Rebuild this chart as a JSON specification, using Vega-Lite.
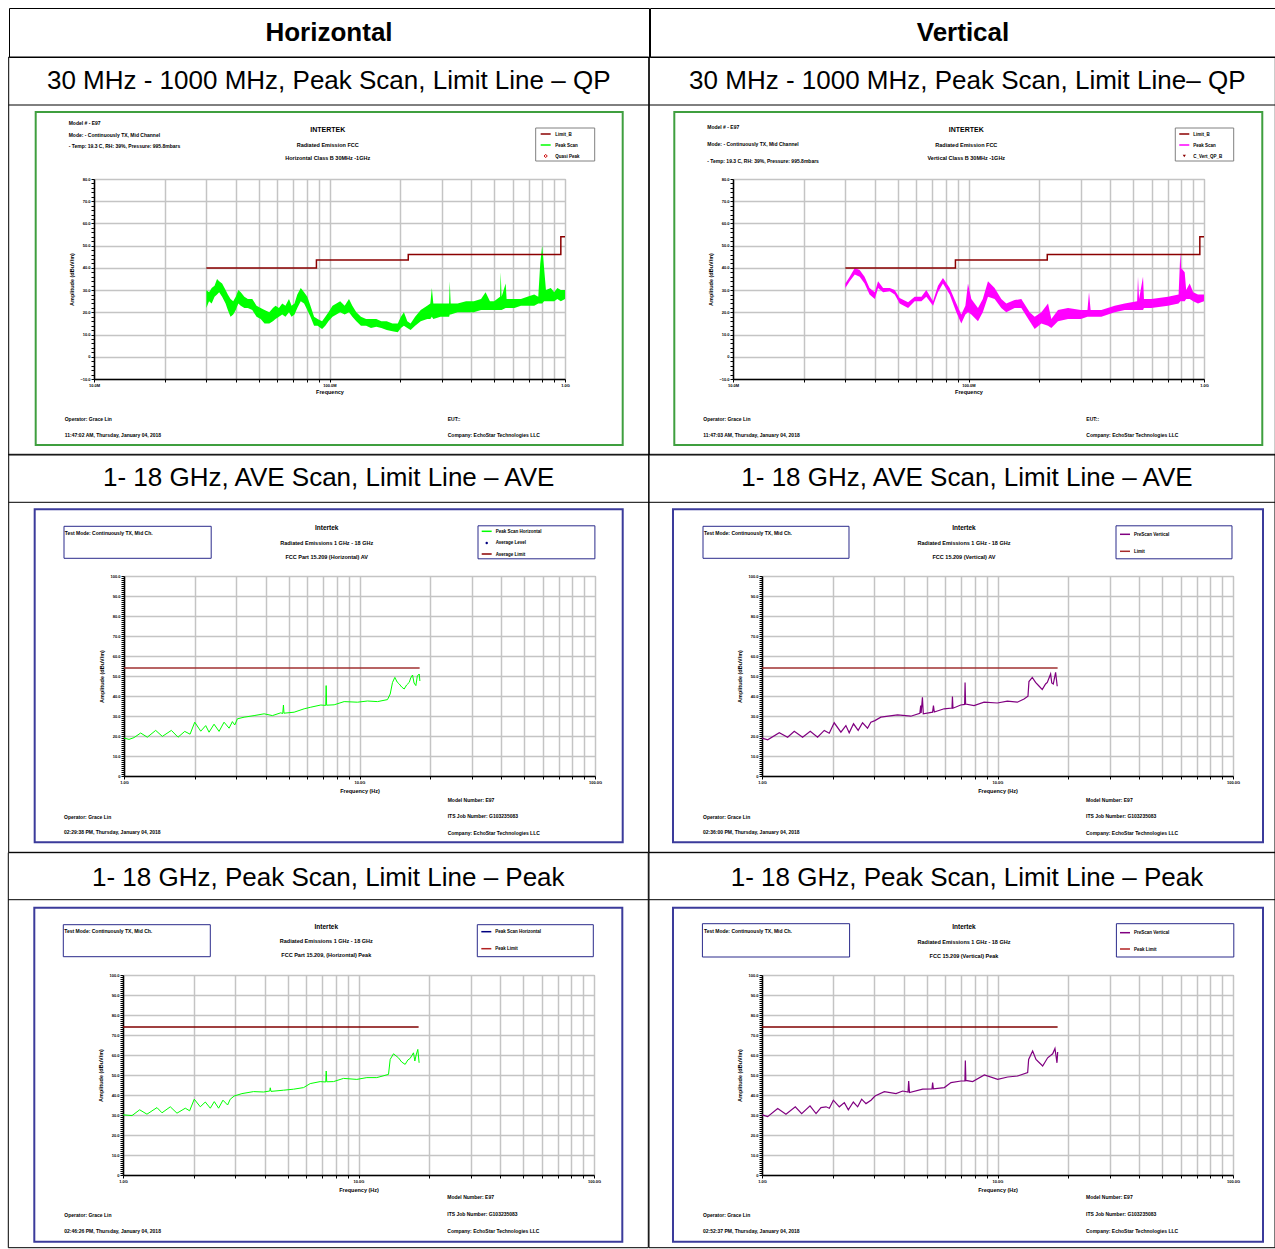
{
  "$schema": "https://vega.github.io/schema/vega-lite/v6.json",
  "usermeta": {"embedOptions": {"actions": false}},
  "padding": {"left": 7, "top": 7, "right": 0, "bottom": 0},
  "background": "#ffffff",
  "config": {
    "font": "Liberation Sans",
    "view": {"stroke": null},
    "axis": {"grid": true, "ticks": true, "tickCount": 500, "labelFont": "Liberation Sans", "labelFontSize": 4, "labelFontWeight": "bold", "labelColor": "#000", "titleFont": "Liberation Sans", "titleFontSize": 5.5, "titleFontWeight": "bold", "titleColor": "#000", "domainColor": "#000", "domainWidth": 1.5, "tickColor": "#000", "tickSize": 3, "tickWidth": 1, "gridColor": "#c4c4c4", "gridWidth": 1.5, "labelOverlap": false, "labelFlush": false, "labelPadding": 1},
    "axisX": {"titlePadding": 2},
    "axisY": {"titlePadding": 5},
    "style": {
      "tiny": {"font": "Liberation Sans", "fontSize": 5, "fontWeight": "bold", "fill": "#000"},
      "leg": {"font": "Liberation Sans", "fontSize": 4.5, "fontWeight": "bold", "fill": "#000"},
      "small": {"font": "Liberation Sans", "fontSize": 5.5, "fontWeight": "bold", "fill": "#000"},
      "brand": {"font": "Liberation Sans", "fontSize": 7, "fontWeight": "bold", "fill": "#000"},
      "brand2": {"font": "Liberation Sans", "fontSize": 6.5, "fontWeight": "bold", "fill": "#000"},
      "sub": {"font": "Liberation Sans", "fontSize": 26, "fill": "#000"}
    }
  },
  "datasets": {
    "A": [
      {"f":30,"lo":22,"hi":30},{"f":30.8,"lo":25,"hi":29},{"f":31.6,"lo":24,"hi":31},{"f":32.5,"lo":27,"hi":32},{"f":33.3,"lo":28,"hi":35},{"f":34,"lo":29,"hi":34},{"f":35,"lo":27,"hi":33},{"f":36.2,"lo":24,"hi":30},{"f":37,"lo":21,"hi":28},{"f":38,"lo":18,"hi":26},{"f":39,"lo":19,"hi":25},{"f":40,"lo":21,"hi":27},{"f":41,"lo":24,"hi":30},{"f":42,"lo":23,"hi":29},{"f":43.5,"lo":22,"hi":27},{"f":45,"lo":22,"hi":26},{"f":47,"lo":21,"hi":26},{"f":49,"lo":18,"hi":23},{"f":51,"lo":17,"hi":22},{"f":53,"lo":15,"hi":21},{"f":55.5,"lo":15,"hi":20},{"f":57.5,"lo":16,"hi":22},{"f":59,"lo":17,"hi":23},{"f":61,"lo":18,"hi":22},{"f":63,"lo":19,"hi":24},{"f":65,"lo":18,"hi":23},{"f":67.3,"lo":20,"hi":26},{"f":69,"lo":18,"hi":23},{"f":71,"lo":19,"hi":24},{"f":73,"lo":22,"hi":28},{"f":75.5,"lo":25,"hi":31},{"f":78,"lo":24,"hi":29},{"f":80.5,"lo":21,"hi":27},{"f":83,"lo":18,"hi":23},{"f":86,"lo":14,"hi":18},{"f":89,"lo":14,"hi":17},{"f":93,"lo":12.5,"hi":16},{"f":96,"lo":14,"hi":18},{"f":99,"lo":16,"hi":20},{"f":103,"lo":18,"hi":23},{"f":107,"lo":19,"hi":24},{"f":111,"lo":20,"hi":25},{"f":116,"lo":19,"hi":23},{"f":121,"lo":20,"hi":26},{"f":125,"lo":18,"hi":23},{"f":130,"lo":16,"hi":20},{"f":136,"lo":14,"hi":18},{"f":143,"lo":14,"hi":17},{"f":150,"lo":13,"hi":17},{"f":158,"lo":13.5,"hi":17},{"f":166,"lo":13,"hi":16},{"f":175,"lo":12,"hi":16},{"f":185,"lo":11.5,"hi":15},{"f":195,"lo":11,"hi":15},{"f":201,"lo":13,"hi":18},{"f":207,"lo":14,"hi":20},{"f":214,"lo":13,"hi":16},{"f":221,"lo":12,"hi":15},{"f":231,"lo":14,"hi":18},{"f":244,"lo":16,"hi":21},{"f":260,"lo":17,"hi":23},{"f":268,"lo":17,"hi":24},{"f":272,"lo":18,"hi":31},{"f":276,"lo":17,"hi":24},{"f":296,"lo":18,"hi":24},{"f":322,"lo":18,"hi":24},{"f":324,"lo":19,"hi":34},{"f":327,"lo":19,"hi":24},{"f":350,"lo":20,"hi":24},{"f":380,"lo":20,"hi":25},{"f":410,"lo":20,"hi":25},{"f":440,"lo":21,"hi":26},{"f":460,"lo":21,"hi":29},{"f":480,"lo":21,"hi":25},{"f":500,"lo":21,"hi":25},{"f":530,"lo":21,"hi":27},{"f":533,"lo":21,"hi":38},{"f":538,"lo":21,"hi":27},{"f":560,"lo":22,"hi":33},{"f":565,"lo":22,"hi":26},{"f":610,"lo":22,"hi":26},{"f":650,"lo":23,"hi":26},{"f":692,"lo":23,"hi":27},{"f":740,"lo":23,"hi":28},{"f":770,"lo":24,"hi":27},{"f":785,"lo":24,"hi":42},{"f":800,"lo":24,"hi":50},{"f":815,"lo":25,"hi":40},{"f":830,"lo":25,"hi":30},{"f":870,"lo":25,"hi":31},{"f":900,"lo":25,"hi":29},{"f":928,"lo":26,"hi":31},{"f":960,"lo":25,"hi":30},{"f":1000,"lo":26,"hi":30}
    ],
    "B": [
      {"f":30,"lo":31,"hi":33},{"f":31.3,"lo":34,"hi":36},{"f":32.9,"lo":37,"hi":40},{"f":34.5,"lo":36,"hi":39},{"f":36.2,"lo":33,"hi":36},{"f":38,"lo":28,"hi":31},{"f":40,"lo":26,"hi":29},{"f":41.3,"lo":31,"hi":34},{"f":43.4,"lo":29,"hi":31},{"f":46.3,"lo":29.5,"hi":31},{"f":48.6,"lo":28,"hi":30},{"f":51,"lo":24,"hi":26.5},{"f":55.4,"lo":22,"hi":24.5},{"f":59.1,"lo":25,"hi":27},{"f":63.1,"lo":25,"hi":27},{"f":66.2,"lo":27,"hi":30},{"f":70.7,"lo":23,"hi":25},{"f":74.2,"lo":29,"hi":32},{"f":77.9,"lo":33,"hi":35.5},{"f":83.2,"lo":28,"hi":31},{"f":88.8,"lo":20,"hi":24},{"f":93.2,"lo":15,"hi":19},{"f":97,"lo":19,"hi":23},{"f":99.5,"lo":20,"hi":33},{"f":102.8,"lo":19,"hi":26},{"f":109.7,"lo":16,"hi":22},{"f":115,"lo":20,"hi":26},{"f":121,"lo":27,"hi":34},{"f":129.1,"lo":26,"hi":31},{"f":137.8,"lo":22,"hi":26},{"f":144.7,"lo":20,"hi":24},{"f":157,"lo":22,"hi":25.5},{"f":167.6,"lo":22,"hi":26},{"f":181.9,"lo":16,"hi":20},{"f":191,"lo":12.5,"hi":18},{"f":203.9,"lo":15,"hi":20},{"f":217.6,"lo":14,"hi":24},{"f":224.8,"lo":13,"hi":17},{"f":239.9,"lo":16,"hi":21},{"f":264.6,"lo":17,"hi":22},{"f":300,"lo":17,"hi":21},{"f":320,"lo":18,"hi":21},{"f":324.9,"lo":18,"hi":29},{"f":330,"lo":18,"hi":21},{"f":366.6,"lo":18,"hi":21},{"f":417.6,"lo":20,"hi":23},{"f":460.4,"lo":21,"hi":24},{"f":520,"lo":21,"hi":25},{"f":524.5,"lo":21,"hi":36},{"f":530,"lo":21,"hi":26},{"f":550.9,"lo":21,"hi":36},{"f":556,"lo":22,"hi":26},{"f":597.5,"lo":22,"hi":26},{"f":703.4,"lo":23,"hi":27},{"f":780,"lo":24,"hi":28},{"f":793.5,"lo":25,"hi":47},{"f":800,"lo":25,"hi":40},{"f":827.9,"lo":25,"hi":38},{"f":840,"lo":26,"hi":30},{"f":869.5,"lo":26,"hi":33},{"f":900,"lo":25,"hi":29},{"f":943,"lo":24,"hi":28},{"f":1000,"lo":25,"hi":28}
    ],
    "C": [
      {"f":1.0,"v":19.0},{"f":1.05,"v":18.3},{"f":1.103,"v":19.2},{"f":1.177,"v":21.5},{"f":1.256,"v":19.4},{"f":1.363,"v":22.8},{"f":1.455,"v":19.8},{"f":1.589,"v":22.8},{"f":1.696,"v":19.4},{"f":1.811,"v":22.3},{"f":1.908,"v":20.9},{"f":1.997,"v":26.9},{"f":2.118,"v":22.4},{"f":2.223,"v":25.2},{"f":2.297,"v":21.9},{"f":2.412,"v":25.9},{"f":2.533,"v":22.3},{"f":2.66,"v":26.9},{"f":2.794,"v":23.9},{"f":2.886,"v":27.2},{"f":2.953,"v":25.5},{"f":3.031,"v":28.6},{"f":3.236,"v":29.4},{"f":3.568,"v":30.2},{"f":3.935,"v":31.1},{"f":4.268,"v":30.2},{"f":4.632,"v":31.6},{"f":4.72,"v":31.2},{"f":4.754,"v":35.5},{"f":4.78,"v":31.4},{"f":5.278,"v":31.9},{"f":5.82,"v":33.6},{"f":6.212,"v":34.4},{"f":6.851,"v":35.5},{"f":7.19,"v":35.3},{"f":7.219,"v":45.2},{"f":7.25,"v":35.4},{"f":7.804,"v":35.6},{"f":8.606,"v":37.2},{"f":9.806,"v":36.9},{"f":10.81,"v":37.5},{"f":11.93,"v":37.2},{"f":13.15,"v":38.2},{"f":13.5,"v":41.0},{"f":13.81,"v":46.8},{"f":14.13,"v":49.3},{"f":14.45,"v":47.0},{"f":14.75,"v":46.0},{"f":15.1,"v":44.5},{"f":15.48,"v":43.5},{"f":15.85,"v":45.5},{"f":16.26,"v":46.8},{"f":16.5,"v":49.0},{"f":16.8,"v":50.5},{"f":17.05,"v":46.5},{"f":17.35,"v":45.2},{"f":17.6,"v":50.0},{"f":17.93,"v":51.0},{"f":18.05,"v":47.5}
    ],
    "D": [
      {"f":1.0,"v":18.9},{"f":1.057,"v":18.1},{"f":1.184,"v":21.6},{"f":1.285,"v":19.4},{"f":1.371,"v":22.4},{"f":1.487,"v":19.4},{"f":1.603,"v":22.4},{"f":1.722,"v":19.4},{"f":1.838,"v":22.8},{"f":1.93,"v":21.4},{"f":2.026,"v":26.6},{"f":2.163,"v":21.9},{"f":2.271,"v":25.2},{"f":2.346,"v":21.6},{"f":2.447,"v":26.1},{"f":2.561,"v":22.8},{"f":2.673,"v":26.6},{"f":2.806,"v":23.9},{"f":2.899,"v":26.9},{"f":3.015,"v":27.7},{"f":3.196,"v":29.4},{"f":3.762,"v":30.6},{"f":4.284,"v":29.9},{"f":4.68,"v":31.4},{"f":4.72,"v":35.2},{"f":4.74,"v":31.5},{"f":4.8,"v":39.4},{"f":4.84,"v":31.1},{"f":5.3,"v":31.9},{"f":5.346,"v":35.2},{"f":5.39,"v":32.0},{"f":5.933,"v":33.6},{"f":6.41,"v":34.0},{"f":6.436,"v":39.7},{"f":6.47,"v":33.9},{"f":6.981,"v":35.5},{"f":7.25,"v":35.8},{"f":7.283,"v":46.8},{"f":7.32,"v":36.0},{"f":7.951,"v":35.2},{"f":8.768,"v":36.9},{"f":9.984,"v":36.5},{"f":11.01,"v":37.4},{"f":12.14,"v":36.9},{"f":12.96,"v":38.5},{"f":13.47,"v":39.9},{"f":13.6,"v":47.2},{"f":14.05,"v":49.3},{"f":14.51,"v":46.8},{"f":15.0,"v":45.0},{"f":15.49,"v":43.2},{"f":16.0,"v":46.0},{"f":16.27,"v":46.8},{"f":16.81,"v":51.0},{"f":17.0,"v":46.5},{"f":17.25,"v":46.0},{"f":17.65,"v":51.8},{"f":17.93,"v":44.9}
    ],
    "E": [
      {"f":1.0,"v":30.1},{"f":1.092,"v":29.7},{"f":1.177,"v":32.6},{"f":1.264,"v":30.4},{"f":1.394,"v":33.7},{"f":1.464,"v":31.1},{"f":1.588,"v":34.1},{"f":1.695,"v":30.9},{"f":1.839,"v":33.4},{"f":1.918,"v":32.1},{"f":2.007,"v":37.9},{"f":2.129,"v":34.1},{"f":2.236,"v":36.5},{"f":2.348,"v":33.4},{"f":2.441,"v":36.7},{"f":2.546,"v":33.4},{"f":2.657,"v":37.4},{"f":2.781,"v":35.0},{"f":2.854,"v":37.9},{"f":2.968,"v":39.5},{"f":3.199,"v":40.7},{"f":3.585,"v":41.7},{"f":3.954,"v":41.5},{"f":4.2,"v":42.0},{"f":4.22,"v":43.6},{"f":4.25,"v":41.8},{"f":4.806,"v":42.4},{"f":5.3,"v":42.9},{"f":5.844,"v":43.7},{"f":6.236,"v":45.7},{"f":6.876,"v":46.7},{"f":7.26,"v":46.5},{"f":7.293,"v":52.0},{"f":7.33,"v":46.6},{"f":7.834,"v":46.7},{"f":8.639,"v":48.3},{"f":9.837,"v":47.8},{"f":10.85,"v":48.7},{"f":11.96,"v":48.7},{"f":13.41,"v":50.3},{"f":13.63,"v":57.8},{"f":14.08,"v":60.6},{"f":14.78,"v":58.6},{"f":15.25,"v":56.5},{"f":15.78,"v":55.3},{"f":16.2,"v":57.5},{"f":16.57,"v":58.3},{"f":17.12,"v":61.1},{"f":17.35,"v":57.0},{"f":17.57,"v":60.0},{"f":17.86,"v":62.8},{"f":18.09,"v":56.1}
    ],
    "F": [
      {"f":1.0,"v":30.1},{"f":1.057,"v":29.2},{"f":1.166,"v":33.2},{"f":1.264,"v":30.4},{"f":1.385,"v":34.1},{"f":1.474,"v":30.7},{"f":1.599,"v":34.6},{"f":1.696,"v":30.7},{"f":1.78,"v":33.7},{"f":1.87,"v":34.1},{"f":1.932,"v":33.4},{"f":2.009,"v":37.4},{"f":2.13,"v":34.1},{"f":2.237,"v":36.2},{"f":2.326,"v":32.6},{"f":2.442,"v":36.5},{"f":2.548,"v":34.1},{"f":2.65,"v":37.9},{"f":2.764,"v":35.7},{"f":2.903,"v":37.4},{"f":3.019,"v":39.5},{"f":3.307,"v":41.7},{"f":3.707,"v":40.7},{"f":3.957,"v":42.0},{"f":4.17,"v":41.5},{"f":4.196,"v":47.0},{"f":4.23,"v":41.2},{"f":4.811,"v":42.9},{"f":5.27,"v":43.0},{"f":5.304,"v":46.2},{"f":5.34,"v":43.1},{"f":5.947,"v":43.7},{"f":6.346,"v":46.2},{"f":6.998,"v":47.0},{"f":7.27,"v":47.0},{"f":7.302,"v":57.3},{"f":7.34,"v":47.3},{"f":7.845,"v":46.7},{"f":8.794,"v":50.0},{"f":10.02,"v":47.8},{"f":11.05,"v":49.0},{"f":12.18,"v":49.5},{"f":13.43,"v":51.2},{"f":13.56,"v":57.8},{"f":14.1,"v":62.0},{"f":14.57,"v":57.8},{"f":15.55,"v":54.5},{"f":16.33,"v":58.6},{"f":17.15,"v":60.6},{"f":17.54,"v":63.3},{"f":17.89,"v":56.1},{"f":18.01,"v":61.5}
    ],
    "limQP": [{"f":30,"v":40},{"f":88,"v":43.5},{"f":216,"v":46},{"f":960,"v":54},{"f":1000,"v":54}],
    "limAV": [{"f":1,"v":54},{"f":18,"v":54}],
    "limPK": [{"f":1,"v":74},{"f":18,"v":74}]
  },
  "columns": 1,
  "spacing": -3,
  "concat": [
    {
      "spacing": -2,
      "hconcat": [
        {"width": 1, "height": 1, "data": {"values": [{"k": "spacer"}]}, "mark": {"type": "point", "size": 0, "opacity": 0}, "encoding": {}},
        {
          "width": 640, "height": 49,
          "view": {"stroke": "#000", "strokeWidth": 1},
          "data": {"values": [{"t": "Horizontal"}]},
          "mark": {"type": "text", "font": "Liberation Sans", "fontSize": 26, "fontWeight": "bold", "color": "#000"},
          "encoding": {"text": {"field": "t", "type": "nominal"}}
        },
        {
          "width": 626, "height": 49,
          "view": {"stroke": "#000", "strokeWidth": 1},
          "data": {"values": [{"t": "Vertical"}]},
          "mark": {"type": "text", "font": "Liberation Sans", "fontSize": 26, "fontWeight": "bold", "color": "#000"},
          "encoding": {"text": {"field": "t", "type": "nominal"}}
        }
      ]
    },
    {
      "spacing": -2,
      "hconcat": [
        {"width": 1, "height": 1, "data": {"values": [{"k": "spacer"}]}, "mark": {"type": "point", "size": 0, "opacity": 0}, "encoding": {}},
        {
          "width": 471, "height": 200,
          "view": {"stroke": "#a0a0a0"},
          "layer": [
            {"data": {"values": [{"k": "cell"}]}, "mark": {"type": "rect", "filled": false, "stroke": "#000", "strokeWidth": 1},
             "encoding": {"x": {"datum": 4.343}, "x2": {"datum": 2267}, "y": {"datum": 134.9}, "y2": {"datum": -44.2}}},
            {"data": {"values": [{"k": "divider"}]}, "mark": {"type": "rule", "color": "#000", "strokeWidth": 1},
             "encoding": {"x": {"datum": 4.343}, "x2": {"datum": 2267}, "y": {"datum": 113.3}}},
            {"data": {"values": [{"k": "frame"}]}, "mark": {"type": "rect", "filled": false, "stroke": "#3f9f3f", "strokeWidth": 2},
             "encoding": {"x": {"datum": 5.655}, "x2": {"datum": 1758}, "y": {"datum": 110.15}, "y2": {"datum": -39.7}}},
            {"data": {"values": [{"k": "legendbox"}]}, "mark": {"type": "rect", "filled": false, "stroke": "#808080", "strokeWidth": 1},
             "encoding": {"x": {"datum": 750.8}, "x2": {"datum": 1336.8}, "y": {"datum": 102.95}, "y2": {"datum": 88.1}}},
            {"data": {"values": [{"s": "Limit_B"}]}, "mark": {"type": "rule", "color": "#8B0000", "strokeWidth": 1.5},
             "encoding": {"x": {"datum": 788.3}, "x2": {"datum": 869.4}, "y": {"datum": 100.25}}},
            {"data": {"values": [{"s": "Peak Scan"}]}, "mark": {"type": "rule", "color": "#00FF00", "strokeWidth": 1.5},
             "encoding": {"x": {"datum": 788.3}, "x2": {"datum": 869.4}, "y": {"datum": 95.3}}},
            {"data": {"values": [{"s": "Quasi Peak"}]}, "mark": {"type": "point", "shape": "diamond", "filled": false, "color": "#CC0000", "size": 10, "strokeWidth": 1, "opacity": 1},
             "encoding": {"x": {"datum": 828.0}, "y": {"datum": 90.35}}},
            {"data": {"values": [{"t": "Limit_B\nPeak Scan\nQuasi Peak"}]}, "mark": {"type": "text", "style": "leg", "align": "left", "baseline": "top", "lineBreak": "\n", "lineHeight": 11},
             "encoding": {"x": {"datum": 909.4}, "y": {"datum": 101.26}, "text": {"field": "t", "type": "nominal"}}},
            {"data": {"values": [{"t": "30 MHz - 1000 MHz, Peak Scan, Limit Line – QP"}]}, "mark": {"type": "text", "style": "sub", "align": "center", "baseline": "middle"},
             "encoding": {"x": {"datum": 99.22}, "y": {"datum": 124.1}, "text": {"field": "t", "type": "nominal"}}},
            {"data": {"values": [{"t": "Model # - E97\nMode: - Continuously TX, Mid Channel\n - Temp: 19.3 C, RH: 39%, Pressure: 995.8mbars"}]}, "mark": {"type": "text", "style": "tiny", "align": "left", "baseline": "top", "lineBreak": "\n", "lineHeight": 11.5},
             "encoding": {"x": {"datum": 7.806}, "y": {"datum": 105.9}, "text": {"field": "t", "type": "nominal"}}},
            {"data": {"values": [{"t": "INTERTEK"}]}, "mark": {"type": "text", "style": "brand", "align": "center", "baseline": "middle"},
             "encoding": {"x": {"datum": 98.26}, "y": {"datum": 102.05}, "text": {"field": "t", "type": "nominal"}}},
            {"data": {"values": [{"t": "Radiated Emission FCC\nHorizontal Class B 30MHz -1GHz"}]}, "mark": {"type": "text", "style": "small", "align": "center", "baseline": "top", "lineBreak": "\n", "lineHeight": 12.7},
             "encoding": {"x": {"datum": 98.26}, "y": {"datum": 96.09}, "text": {"field": "t", "type": "nominal"}}},
            {"data": {"values": [{"t": "Operator: Grace Lin\n11:47:02 AM, Thursday, January 04, 2018"}]}, "mark": {"type": "text", "style": "tiny", "align": "left", "baseline": "top", "lineBreak": "\n", "lineHeight": 16},
             "encoding": {"x": {"datum": 7.508}, "y": {"datum": -26.875}, "text": {"field": "t", "type": "nominal"}}},
            {"data": {"values": [{"t": "EUT::\nCompany: EchoStar Technologies LLC"}]}, "mark": {"type": "text", "style": "tiny", "align": "left", "baseline": "top", "lineBreak": "\n", "lineHeight": 16},
             "encoding": {"x": {"datum": 317.7}, "y": {"datum": -26.875}, "text": {"field": "t", "type": "nominal"}}},
            {"data": {"name": "A"}, "mark": {"type": "area", "opacity": 1, "color": "#00FF00"},
             "encoding": {
               "x": {"field": "f", "type": "quantitative", "scale": {"type": "log", "domain": [10, 1000], "nice": false},
                     "axis": {"grid": true, "ticks": true, "tickCount": 500, "values": [10,20,30,40,50,60,70,80,90,100,200,300,400,500,600,700,800,900,1000], "labelExpr": "datum.value === 10 ? '10.0M' : datum.value === 100 ? '100.0M' : datum.value === 1000 ? '1.0G' : ''", "title": "Frequency"}},
               "y": {"field": "lo", "type": "quantitative", "scale": {"domain": [-10, 80], "nice": false, "zero": false},
                     "axis": {"grid": true, "ticks": true, "tickCount": 500, "values": [-10,-8,-6,-4,-2,0,2,4,6,8,10,12,14,16,18,20,22,24,26,28,30,32,34,36,38,40,42,44,46,48,50,52,54,56,58,60,62,64,66,68,70,72,74,76,78,80], "labelExpr": "datum.value % 10 === 0 ? (datum.value === 0 ? '0' : format(datum.value, '.1f')) : ''", "gridOpacity": {"condition": {"test": "datum.value % 10 === 0", "value": 1}, "value": 0}, "title": "Amplitude (dBuV/m)"}},
               "y2": {"field": "hi"}
             }},
            {"data": {"name": "limQP"}, "mark": {"type": "line", "interpolate": "step-after", "color": "#8B0000", "strokeWidth": 1.5},
             "encoding": {"x": {"field": "f", "type": "quantitative"}, "y": {"field": "v", "type": "quantitative"}}}
          ]
        },
        {
          "width": 471, "height": 200,
          "view": {"stroke": "#a0a0a0"},
          "layer": [
            {"data": {"values": [{"k": "cell"}]}, "mark": {"type": "rect", "filled": false, "stroke": "#000", "strokeWidth": 1},
             "encoding": {"x": {"datum": 4.412}, "x2": {"datum": 2008}, "y": {"datum": 134.9}, "y2": {"datum": -44.2}}},
            {"data": {"values": [{"k": "divider"}]}, "mark": {"type": "rule", "color": "#000", "strokeWidth": 1},
             "encoding": {"x": {"datum": 4.412}, "x2": {"datum": 2008}, "y": {"datum": 113.3}}},
            {"data": {"values": [{"k": "frame"}]}, "mark": {"type": "rect", "filled": false, "stroke": "#3f9f3f", "strokeWidth": 2},
             "encoding": {"x": {"datum": 5.633}, "x2": {"datum": 1768}, "y": {"datum": 110.15}, "y2": {"datum": -39.7}}},
            {"data": {"values": [{"k": "legendbox"}]}, "mark": {"type": "rect", "filled": false, "stroke": "#808080", "strokeWidth": 1},
             "encoding": {"x": {"datum": 755.2}, "x2": {"datum": 1336.8}, "y": {"datum": 102.95}, "y2": {"datum": 88.1}}},
            {"data": {"values": [{"s": "Limit_B"}]}, "mark": {"type": "rule", "color": "#8B0000", "strokeWidth": 1.5},
             "encoding": {"x": {"datum": 785.2}, "x2": {"datum": 866.0}, "y": {"datum": 100.25}}},
            {"data": {"values": [{"s": "Peak Scan"}]}, "mark": {"type": "rule", "color": "#FF00FF", "strokeWidth": 1.5},
             "encoding": {"x": {"datum": 785.2}, "x2": {"datum": 866.0}, "y": {"datum": 95.3}}},
            {"data": {"values": [{"s": "C_Vert_QP_B"}]}, "mark": {"type": "point", "shape": "triangle-down", "filled": true, "color": "#8B0000", "size": 10, "opacity": 1},
             "encoding": {"x": {"datum": 824.8}, "y": {"datum": 90.35}}},
            {"data": {"values": [{"t": "Limit_B\nPeak Scan\nC_Vert_QP_B"}]}, "mark": {"type": "text", "style": "leg", "align": "left", "baseline": "top", "lineBreak": "\n", "lineHeight": 11},
             "encoding": {"x": {"datum": 900.5}, "y": {"datum": 101.26}, "text": {"field": "t", "type": "nominal"}}},
            {"data": {"values": [{"t": "30 MHz - 1000 MHz, Peak Scan, Limit Line– QP"}]}, "mark": {"type": "text", "style": "sub", "align": "center", "baseline": "middle"},
             "encoding": {"x": {"datum": 98.83}, "y": {"datum": 124.1}, "text": {"field": "t", "type": "nominal"}}},
            {"data": {"values": [{"t": "Model # - E97\nMode: - Continuously TX, Mid Channel\n - Temp: 19.3 C, RH: 39%, Pressure: 995.8mbars"}]}, "mark": {"type": "text", "style": "tiny", "align": "left", "baseline": "top", "lineBreak": "\n", "lineHeight": 17},
             "encoding": {"x": {"datum": 7.776}, "y": {"datum": 104.525}, "text": {"field": "t", "type": "nominal"}}},
            {"data": {"values": [{"t": "INTERTEK"}]}, "mark": {"type": "text", "style": "brand", "align": "center", "baseline": "middle"},
             "encoding": {"x": {"datum": 97.87}, "y": {"datum": 102.05}, "text": {"field": "t", "type": "nominal"}}},
            {"data": {"values": [{"t": "Radiated Emission FCC\nVertical Class B 30MHz -1GHz"}]}, "mark": {"type": "text", "style": "small", "align": "center", "baseline": "top", "lineBreak": "\n", "lineHeight": 12.7},
             "encoding": {"x": {"datum": 97.87}, "y": {"datum": 96.09}, "text": {"field": "t", "type": "nominal"}}},
            {"data": {"values": [{"t": "Operator: Grace Lin\n11:47:03 AM, Thursday, January 04, 2018"}]}, "mark": {"type": "text", "style": "tiny", "align": "left", "baseline": "top", "lineBreak": "\n", "lineHeight": 16.5},
             "encoding": {"x": {"datum": 7.478}, "y": {"datum": -26.875}, "text": {"field": "t", "type": "nominal"}}},
            {"data": {"values": [{"t": "EUT::\nCompany: EchoStar Technologies LLC"}]}, "mark": {"type": "text", "style": "tiny", "align": "left", "baseline": "top", "lineBreak": "\n", "lineHeight": 16.5},
             "encoding": {"x": {"datum": 316.4}, "y": {"datum": -26.875}, "text": {"field": "t", "type": "nominal"}}},
            {"data": {"name": "B"}, "mark": {"type": "area", "opacity": 1, "color": "#FF00FF"},
             "encoding": {
               "x": {"field": "f", "type": "quantitative", "scale": {"type": "log", "domain": [10, 1000], "nice": false},
                     "axis": {"grid": true, "ticks": true, "tickCount": 500, "values": [10,20,30,40,50,60,70,80,90,100,200,300,400,500,600,700,800,900,1000], "labelExpr": "datum.value === 10 ? '10.0M' : datum.value === 100 ? '100.0M' : datum.value === 1000 ? '1.0G' : ''", "title": "Frequency"}},
               "y": {"field": "lo", "type": "quantitative", "scale": {"domain": [-10, 80], "nice": false, "zero": false},
                     "axis": {"grid": true, "ticks": true, "tickCount": 500, "values": [-10,-8,-6,-4,-2,0,2,4,6,8,10,12,14,16,18,20,22,24,26,28,30,32,34,36,38,40,42,44,46,48,50,52,54,56,58,60,62,64,66,68,70,72,74,76,78,80], "labelExpr": "datum.value % 10 === 0 ? (datum.value === 0 ? '0' : format(datum.value, '.1f')) : ''", "gridOpacity": {"condition": {"test": "datum.value % 10 === 0", "value": 1}, "value": 0}, "title": "Amplitude (dBuV/m)"}},
               "y2": {"field": "hi"}
             }},
            {"data": {"name": "limQP"}, "mark": {"type": "line", "interpolate": "step-after", "color": "#8B0000", "strokeWidth": 1.5},
             "encoding": {"x": {"field": "f", "type": "quantitative"}, "y": {"field": "v", "type": "quantitative"}}}
          ]
        }
      ]
    },
    {
      "spacing": -2,
      "hconcat": [
        {"width": 1, "height": 1, "data": {"values": [{"k": "spacer"}]}, "mark": {"type": "point", "size": 0, "opacity": 0}, "encoding": {}},
        {
          "width": 471, "height": 200,
          "view": {"stroke": "#a0a0a0"},
          "layer": [
            {"data": {"values": [{"k": "cell"}]}, "mark": {"type": "rect", "filled": false, "stroke": "#000", "strokeWidth": 1},
             "encoding": {"x": {"datum": 0.3239}, "x2": {"datum": 169.04}, "y": {"datum": 160.85}, "y2": {"datum": -38.15}}},
            {"data": {"values": [{"k": "divider"}]}, "mark": {"type": "rule", "color": "#000", "strokeWidth": 1},
             "encoding": {"x": {"datum": 0.3239}, "x2": {"datum": 169.04}, "y": {"datum": 136.85}}},
            {"data": {"values": [{"k": "frame"}]}, "mark": {"type": "rect", "filled": false, "stroke": "#3b3b9b", "strokeWidth": 2},
             "encoding": {"x": {"datum": 0.4176}, "x2": {"datum": 131.12}, "y": {"datum": 133.35}, "y2": {"datum": -33.15}}},
            {"data": {"values": [{"k": "testbox"}]}, "mark": {"type": "rect", "filled": false, "stroke": "#2b2b8b", "strokeWidth": 1},
             "encoding": {"x": {"datum": 0.5562}, "x2": {"datum": 2.3457}, "y": {"datum": 124.85}, "y2": {"datum": 108.85}}},
            {"data": {"values": [{"k": "legendbox"}]}, "mark": {"type": "rect", "filled": false, "stroke": "#2b2b8b", "strokeWidth": 1},
             "encoding": {"x": {"datum": 31.856}, "x2": {"datum": 99.9}, "y": {"datum": 125.1}, "y2": {"datum": 108.6}}},
            {"data": {"values": [{"s": "Peak Scan Horizontal"}]}, "mark": {"type": "rule", "color": "#00FF00", "strokeWidth": 1.5},
             "encoding": {"x": {"datum": 33.03}, "x2": {"datum": 36.41}, "y": {"datum": 122.35}}},
            {"data": {"values": [{"s": "Average Level"}]}, "mark": {"type": "point", "shape": "circle", "filled": true, "color": "#000080", "size": 6, "opacity": 1},
             "encoding": {"x": {"datum": 34.69}, "y": {"datum": 116.5}}},
            {"data": {"values": [{"s": "Average Limit"}]}, "mark": {"type": "rule", "color": "#8B0000", "strokeWidth": 1.5},
             "encoding": {"x": {"datum": 33.03}, "x2": {"datum": 36.41}, "y": {"datum": 111}}},
            {"data": {"values": [{"t": "Peak Scan Horizontal\nAverage Level\nAverage Limit"}]}, "mark": {"type": "text", "style": "leg", "align": "left", "baseline": "top", "lineBreak": "\n", "lineHeight": 11.35},
             "encoding": {"x": {"datum": 37.87}, "y": {"datum": 123.475}, "text": {"field": "t", "type": "nominal"}}},
            {"data": {"values": [{"t": "1- 18 GHz, AVE Scan, Limit Line – AVE"}]}, "mark": {"type": "text", "style": "sub", "align": "center", "baseline": "middle"},
             "encoding": {"x": {"datum": 7.3988}, "y": {"datum": 148.85}, "text": {"field": "t", "type": "nominal"}}},
            {"data": {"values": [{"t": "Test Mode: Continuously TX, Mid Ch."}]}, "mark": {"type": "text", "style": "tiny", "align": "left", "baseline": "top"},
             "encoding": {"x": {"datum": 0.5601}, "y": {"datum": 122.6}, "text": {"field": "t", "type": "nominal"}}},
            {"data": {"values": [{"t": "Intertek"}]}, "mark": {"type": "text", "style": "brand2", "align": "center", "baseline": "middle"},
             "encoding": {"x": {"datum": 7.2555}, "y": {"datum": 124}, "text": {"field": "t", "type": "nominal"}}},
            {"data": {"values": [{"t": "Radiated Emissions 1 GHz - 18 GHz\nFCC Part 15.209 (Horizontal) AV"}]}, "mark": {"type": "text", "style": "small", "align": "center", "baseline": "top", "lineBreak": "\n", "lineHeight": 14},
             "encoding": {"x": {"datum": 7.2555}, "y": {"datum": 117.725}, "text": {"field": "t", "type": "nominal"}}},
            {"data": {"values": [{"t": "Model Number: E97\nITS Job Number: G103235083\nCompany: EchoStar Technologies LLC"}]}, "mark": {"type": "text", "style": "tiny", "align": "left", "baseline": "top", "lineBreak": "\n", "lineHeight": 16.5},
             "encoding": {"x": {"datum": 23.687}, "y": {"datum": -10.75}, "text": {"field": "t", "type": "nominal"}}},
            {"data": {"values": [{"t": "Operator: Grace Lin\n02:29:38 PM, Thursday, January 04, 2018"}]}, "mark": {"type": "text", "style": "tiny", "align": "left", "baseline": "top", "lineBreak": "\n", "lineHeight": 15.7},
             "encoding": {"x": {"datum": 0.5562}, "y": {"datum": -19.4}, "text": {"field": "t", "type": "nominal"}}},
            {"data": {"name": "C"}, "mark": {"type": "line", "strokeWidth": 1, "color": "#00FF00"},
             "encoding": {
               "x": {"field": "f", "type": "quantitative", "scale": {"type": "log", "domain": [1, 100], "nice": false},
                     "axis": {"grid": true, "ticks": true, "tickCount": 500, "values": [1,2,3,4,5,6,7,8,9,10,20,30,40,50,60,70,80,90,100], "labelExpr": "datum.value === 1 ? '1.0G' : datum.value === 10 ? '10.0G' : datum.value === 100 ? '100.0G' : ''", "title": "Frequency (Hz)", "titlePadding": 4}},
               "y": {"field": "v", "type": "quantitative", "scale": {"domain": [0, 100], "nice": false, "zero": false},
                     "axis": {"grid": true, "ticks": true, "tickCount": 500, "values": [0,1,2,3,4,5,6,7,8,9,10,11,12,13,14,15,16,17,18,19,20,21,22,23,24,25,26,27,28,29,30,31,32,33,34,35,36,37,38,39,40,41,42,43,44,45,46,47,48,49,50,51,52,53,54,55,56,57,58,59,60,61,62,63,64,65,66,67,68,69,70,71,72,73,74,75,76,77,78,79,80,81,82,83,84,85,86,87,88,89,90,91,92,93,94,95,96,97,98,99,100], "labelExpr": "datum.value % 10 === 0 ? (datum.value === 0 ? '0' : format(datum.value, '.1f')) : ''", "gridOpacity": {"condition": {"test": "datum.value % 10 === 0", "value": 1}, "value": 0}, "title": "Amplitude (dBuV/m)"}}
             }},
            {"data": {"name": "limAV"}, "mark": {"type": "line", "color": "#A03030", "strokeWidth": 1.5},
             "encoding": {"x": {"field": "f", "type": "quantitative"}, "y": {"field": "v", "type": "quantitative"}}}
          ]
        },
        {
          "width": 471, "height": 200,
          "view": {"stroke": "#a0a0a0"},
          "layer": [
            {"data": {"values": [{"k": "cell"}]}, "mark": {"type": "rect", "filled": false, "stroke": "#000", "strokeWidth": 1},
             "encoding": {"x": {"datum": 0.33127}, "x2": {"datum": 150.78}, "y": {"datum": 160.85}, "y2": {"datum": -38.15}}},
            {"data": {"values": [{"k": "divider"}]}, "mark": {"type": "rule", "color": "#000", "strokeWidth": 1},
             "encoding": {"x": {"datum": 0.33127}, "x2": {"datum": 150.78}, "y": {"datum": 136.85}}},
            {"data": {"values": [{"k": "frame"}]}, "mark": {"type": "rect", "filled": false, "stroke": "#3b3b9b", "strokeWidth": 2},
             "encoding": {"x": {"datum": 0.41884}, "x2": {"datum": 134.09}, "y": {"datum": 133.35}, "y2": {"datum": -33.15}}},
            {"data": {"values": [{"k": "testbox"}]}, "mark": {"type": "rect", "filled": false, "stroke": "#2b2b8b", "strokeWidth": 1},
             "encoding": {"x": {"datum": 0.56172}, "x2": {"datum": 2.3411}, "y": {"datum": 124.85}, "y2": {"datum": 108.85}}},
            {"data": {"values": [{"k": "legendbox"}]}, "mark": {"type": "rect", "filled": false, "stroke": "#2b2b8b", "strokeWidth": 1},
             "encoding": {"x": {"datum": 31.856}, "x2": {"datum": 99.026}, "y": {"datum": 125.1}, "y2": {"datum": 108.6}}},
            {"data": {"values": [{"s": "PreScan Vertical"}]}, "mark": {"type": "rule", "color": "#800080", "strokeWidth": 1.5},
             "encoding": {"x": {"datum": 33.13}, "x2": {"datum": 36.52}, "y": {"datum": 120.85}}},
            {"data": {"values": [{"s": "Limit"}]}, "mark": {"type": "rule", "color": "#A52A2A", "strokeWidth": 1.5},
             "encoding": {"x": {"datum": 33.13}, "x2": {"datum": 36.52}, "y": {"datum": 112.35}}},
            {"data": {"values": [{"t": "PreScan Vertical\nLimit"}]}, "mark": {"type": "text", "style": "leg", "align": "left", "baseline": "top", "lineBreak": "\n", "lineHeight": 17},
             "encoding": {"x": {"datum": 37.98}, "y": {"datum": 121.975}, "text": {"field": "t", "type": "nominal"}}},
            {"data": {"values": [{"t": "1- 18 GHz, AVE Scan, Limit Line – AVE"}]}, "mark": {"type": "text", "style": "sub", "align": "center", "baseline": "middle"},
             "encoding": {"x": {"datum": 7.4206}, "y": {"datum": 148.85}, "text": {"field": "t", "type": "nominal"}}},
            {"data": {"values": [{"t": "Test Mode: Continuously TX, Mid Ch."}]}, "mark": {"type": "text", "style": "tiny", "align": "left", "baseline": "top"},
             "encoding": {"x": {"datum": 0.56724}, "y": {"datum": 122.6}, "text": {"field": "t", "type": "nominal"}}},
            {"data": {"values": [{"t": "Intertek"}]}, "mark": {"type": "text", "style": "brand2", "align": "center", "baseline": "middle"},
             "encoding": {"x": {"datum": 7.206}, "y": {"datum": 124}, "text": {"field": "t", "type": "nominal"}}},
            {"data": {"values": [{"t": "Radiated Emissions 1 GHz - 18 GHz\nFCC 15.209 (Vertical) AV"}]}, "mark": {"type": "text", "style": "small", "align": "center", "baseline": "top", "lineBreak": "\n", "lineHeight": 14},
             "encoding": {"x": {"datum": 7.206}, "y": {"datum": 117.725}, "text": {"field": "t", "type": "nominal"}}},
            {"data": {"values": [{"t": "Model Number: E97\nITS Job Number: G103235083\nCompany: EchoStar Technologies LLC"}]}, "mark": {"type": "text", "style": "tiny", "align": "left", "baseline": "top", "lineBreak": "\n", "lineHeight": 16.5},
             "encoding": {"x": {"datum": 23.757}, "y": {"datum": -10.75}, "text": {"field": "t", "type": "nominal"}}},
            {"data": {"values": [{"t": "Operator: Grace Lin\n02:36:00 PM, Thursday, January 04, 2018"}]}, "mark": {"type": "text", "style": "tiny", "align": "left", "baseline": "top", "lineBreak": "\n", "lineHeight": 15.7},
             "encoding": {"x": {"datum": 0.56172}, "y": {"datum": -19.4}, "text": {"field": "t", "type": "nominal"}}},
            {"data": {"name": "D"}, "mark": {"type": "line", "strokeWidth": 1.2, "color": "#800080"},
             "encoding": {
               "x": {"field": "f", "type": "quantitative", "scale": {"type": "log", "domain": [1, 100], "nice": false},
                     "axis": {"grid": true, "ticks": true, "tickCount": 500, "values": [1,2,3,4,5,6,7,8,9,10,20,30,40,50,60,70,80,90,100], "labelExpr": "datum.value === 1 ? '1.0G' : datum.value === 10 ? '10.0G' : datum.value === 100 ? '100.0G' : ''", "title": "Frequency (Hz)", "titlePadding": 4}},
               "y": {"field": "v", "type": "quantitative", "scale": {"domain": [0, 100], "nice": false, "zero": false},
                     "axis": {"grid": true, "ticks": true, "tickCount": 500, "values": [0,1,2,3,4,5,6,7,8,9,10,11,12,13,14,15,16,17,18,19,20,21,22,23,24,25,26,27,28,29,30,31,32,33,34,35,36,37,38,39,40,41,42,43,44,45,46,47,48,49,50,51,52,53,54,55,56,57,58,59,60,61,62,63,64,65,66,67,68,69,70,71,72,73,74,75,76,77,78,79,80,81,82,83,84,85,86,87,88,89,90,91,92,93,94,95,96,97,98,99,100], "labelExpr": "datum.value % 10 === 0 ? (datum.value === 0 ? '0' : format(datum.value, '.1f')) : ''", "gridOpacity": {"condition": {"test": "datum.value % 10 === 0", "value": 1}, "value": 0}, "title": "Amplitude (dBuV/m)"}}
             }},
            {"data": {"name": "limAV"}, "mark": {"type": "line", "color": "#A03030", "strokeWidth": 1.5},
             "encoding": {"x": {"field": "f", "type": "quantitative"}, "y": {"field": "v", "type": "quantitative"}}}
          ]
        }
      ]
    },
    {
      "spacing": -2,
      "hconcat": [
        {"width": 1, "height": 1, "data": {"values": [{"k": "spacer"}]}, "mark": {"type": "point", "size": 0, "opacity": 0}, "encoding": {}},
        {
          "width": 471, "height": 200,
          "view": {"stroke": "#a0a0a0"},
          "layer": [
            {"data": {"values": [{"k": "cell"}]}, "mark": {"type": "rect", "filled": false, "stroke": "#000", "strokeWidth": 1},
             "encoding": {"x": {"datum": 0.32582}, "x2": {"datum": 170.03}, "y": {"datum": 161.15}, "y2": {"datum": -36.35}}},
            {"data": {"values": [{"k": "divider"}]}, "mark": {"type": "rule", "color": "#000", "strokeWidth": 1},
             "encoding": {"x": {"datum": 0.32582}, "x2": {"datum": 170.03}, "y": {"datum": 137.65}}},
            {"data": {"values": [{"k": "frame"}]}, "mark": {"type": "rect", "filled": false, "stroke": "#3b3b9b", "strokeWidth": 2},
             "encoding": {"x": {"datum": 0.42009}, "x2": {"datum": 131.88}, "y": {"datum": 133.65}, "y2": {"datum": -33.35}}},
            {"data": {"values": [{"k": "testbox"}]}, "mark": {"type": "rect", "filled": false, "stroke": "#2b2b8b", "strokeWidth": 1},
             "encoding": {"x": {"datum": 0.55788}, "x2": {"datum": 2.348}, "y": {"datum": 125.15}, "y2": {"datum": 109.15}}},
            {"data": {"values": [{"k": "legendbox"}]}, "mark": {"type": "rect", "filled": false, "stroke": "#2b2b8b", "strokeWidth": 1},
             "encoding": {"x": {"datum": 31.95}, "x2": {"datum": 99.318}, "y": {"datum": 125.15}, "y2": {"datum": 109.15}}},
            {"data": {"values": [{"s": "Peak Scan Horizontal"}]}, "mark": {"type": "rule", "color": "#000080", "strokeWidth": 1.5},
             "encoding": {"x": {"datum": 33.23}, "x2": {"datum": 36.64}, "y": {"datum": 121.65}}},
            {"data": {"values": [{"s": "Peak Limit"}]}, "mark": {"type": "rule", "color": "#B22222", "strokeWidth": 1.5},
             "encoding": {"x": {"datum": 33.23}, "x2": {"datum": 36.64}, "y": {"datum": 113.15}}},
            {"data": {"values": [{"t": "Peak Scan Horizontal\nPeak Limit"}]}, "mark": {"type": "text", "style": "leg", "align": "left", "baseline": "top", "lineBreak": "\n", "lineHeight": 17},
             "encoding": {"x": {"datum": 38.09}, "y": {"datum": 122.775}, "text": {"field": "t", "type": "nominal"}}},
            {"data": {"values": [{"t": "1- 18 GHz, Peak Scan, Limit Line – Peak"}]}, "mark": {"type": "text", "style": "sub", "align": "center", "baseline": "middle"},
             "encoding": {"x": {"datum": 7.4424}, "y": {"datum": 148.65}, "text": {"field": "t", "type": "nominal"}}},
            {"data": {"values": [{"t": "Test Mode: Continuously TX, Mid Ch."}]}, "mark": {"type": "text", "style": "tiny", "align": "left", "baseline": "top"},
             "encoding": {"x": {"datum": 0.56333}, "y": {"datum": 122.9}, "text": {"field": "t", "type": "nominal"}}},
            {"data": {"values": [{"t": "Intertek"}]}, "mark": {"type": "text", "style": "brand2", "align": "center", "baseline": "middle"},
             "encoding": {"x": {"datum": 7.2983}, "y": {"datum": 124.15}, "text": {"field": "t", "type": "nominal"}}},
            {"data": {"values": [{"t": "Radiated Emissions 1 GHz - 18 GHz\nFCC Part 15.209, (Horizontal) Peak"}]}, "mark": {"type": "text", "style": "small", "align": "center", "baseline": "top", "lineBreak": "\n", "lineHeight": 14},
             "encoding": {"x": {"datum": 7.2983}, "y": {"datum": 118.025}, "text": {"field": "t", "type": "nominal"}}},
            {"data": {"values": [{"t": "Model Number: E97\nITS Job Number: G103235083\nCompany: EchoStar Technologies LLC"}]}, "mark": {"type": "text", "style": "tiny", "align": "left", "baseline": "top", "lineBreak": "\n", "lineHeight": 17},
             "encoding": {"x": {"datum": 23.827}, "y": {"datum": -10.1}, "text": {"field": "t", "type": "nominal"}}},
            {"data": {"values": [{"t": "Operator: Grace Lin\n02:46:26 PM, Thursday, January 04, 2018"}]}, "mark": {"type": "text", "style": "tiny", "align": "left", "baseline": "top", "lineBreak": "\n", "lineHeight": 16},
             "encoding": {"x": {"datum": 0.56333}, "y": {"datum": -19.1}, "text": {"field": "t", "type": "nominal"}}},
            {"data": {"name": "E"}, "mark": {"type": "line", "strokeWidth": 1, "color": "#00FF00"},
             "encoding": {
               "x": {"field": "f", "type": "quantitative", "scale": {"type": "log", "domain": [1, 100], "nice": false},
                     "axis": {"grid": true, "ticks": true, "tickCount": 500, "values": [1,2,3,4,5,6,7,8,9,10,20,30,40,50,60,70,80,90,100], "labelExpr": "datum.value === 1 ? '1.0G' : datum.value === 10 ? '10.0G' : datum.value === 100 ? '100.0G' : ''", "title": "Frequency (Hz)", "titlePadding": 4}},
               "y": {"field": "v", "type": "quantitative", "scale": {"domain": [0, 100], "nice": false, "zero": false},
                     "axis": {"grid": true, "ticks": true, "tickCount": 500, "values": [0,1,2,3,4,5,6,7,8,9,10,11,12,13,14,15,16,17,18,19,20,21,22,23,24,25,26,27,28,29,30,31,32,33,34,35,36,37,38,39,40,41,42,43,44,45,46,47,48,49,50,51,52,53,54,55,56,57,58,59,60,61,62,63,64,65,66,67,68,69,70,71,72,73,74,75,76,77,78,79,80,81,82,83,84,85,86,87,88,89,90,91,92,93,94,95,96,97,98,99,100], "labelExpr": "datum.value % 10 === 0 ? (datum.value === 0 ? '0' : format(datum.value, '.1f')) : ''", "gridOpacity": {"condition": {"test": "datum.value % 10 === 0", "value": 1}, "value": 0}, "title": "Amplitude (dBuV/m)"}}
             }},
            {"data": {"name": "limPK"}, "mark": {"type": "line", "color": "#800000", "strokeWidth": 1.5},
             "encoding": {"x": {"field": "f", "type": "quantitative"}, "y": {"field": "v", "type": "quantitative"}}}
          ]
        },
        {
          "width": 471, "height": 200,
          "view": {"stroke": "#a0a0a0"},
          "layer": [
            {"data": {"values": [{"k": "cell"}]}, "mark": {"type": "rect", "filled": false, "stroke": "#000", "strokeWidth": 1},
             "encoding": {"x": {"datum": 0.33127}, "x2": {"datum": 150.78}, "y": {"datum": 161.15}, "y2": {"datum": -36.35}}},
            {"data": {"values": [{"k": "divider"}]}, "mark": {"type": "rule", "color": "#000", "strokeWidth": 1},
             "encoding": {"x": {"datum": 0.33127}, "x2": {"datum": 150.78}, "y": {"datum": 137.65}}},
            {"data": {"values": [{"k": "frame"}]}, "mark": {"type": "rect", "filled": false, "stroke": "#3b3b9b", "strokeWidth": 2},
             "encoding": {"x": {"datum": 0.41884}, "x2": {"datum": 134.09}, "y": {"datum": 133.65}, "y2": {"datum": -33.35}}},
            {"data": {"values": [{"k": "testbox"}]}, "mark": {"type": "rect", "filled": false, "stroke": "#2b2b8b", "strokeWidth": 1},
             "encoding": {"x": {"datum": 0.55842}, "x2": {"datum": 2.3549}, "y": {"datum": 125.65}, "y2": {"datum": 109}}},
            {"data": {"values": [{"k": "legendbox"}]}, "mark": {"type": "rect", "filled": false, "stroke": "#2b2b8b", "strokeWidth": 1},
             "encoding": {"x": {"datum": 31.981}, "x2": {"datum": 100.79}, "y": {"datum": 125.65}, "y2": {"datum": 109}}},
            {"data": {"values": [{"s": "PreScan Vertical"}]}, "mark": {"type": "rule", "color": "#800080", "strokeWidth": 1.5},
             "encoding": {"x": {"datum": 33.13}, "x2": {"datum": 36.52}, "y": {"datum": 121.15}}},
            {"data": {"values": [{"s": "Peak Limit"}]}, "mark": {"type": "rule", "color": "#B22222", "strokeWidth": 1.5},
             "encoding": {"x": {"datum": 33.13}, "x2": {"datum": 36.52}, "y": {"datum": 113}}},
            {"data": {"values": [{"t": "PreScan Vertical\nPeak Limit"}]}, "mark": {"type": "text", "style": "leg", "align": "left", "baseline": "top", "lineBreak": "\n", "lineHeight": 16.3},
             "encoding": {"x": {"datum": 37.98}, "y": {"datum": 122.275}, "text": {"field": "t", "type": "nominal"}}},
            {"data": {"values": [{"t": "1- 18 GHz, Peak Scan, Limit Line – Peak"}]}, "mark": {"type": "text", "style": "sub", "align": "center", "baseline": "middle"},
             "encoding": {"x": {"datum": 7.4206}, "y": {"datum": 148.65}, "text": {"field": "t", "type": "nominal"}}},
            {"data": {"values": [{"t": "Test Mode: Continuously TX, Mid Ch."}]}, "mark": {"type": "text", "style": "tiny", "align": "left", "baseline": "top"},
             "encoding": {"x": {"datum": 0.56724}, "y": {"datum": 122.9}, "text": {"field": "t", "type": "nominal"}}},
            {"data": {"values": [{"t": "Intertek"}]}, "mark": {"type": "text", "style": "brand2", "align": "center", "baseline": "middle"},
             "encoding": {"x": {"datum": 7.206}, "y": {"datum": 124}, "text": {"field": "t", "type": "nominal"}}},
            {"data": {"values": [{"t": "Radiated Emissions 1 GHz - 18 GHz\nFCC 15.209 (Vertical) Peak"}]}, "mark": {"type": "text", "style": "small", "align": "center", "baseline": "top", "lineBreak": "\n", "lineHeight": 14},
             "encoding": {"x": {"datum": 7.206}, "y": {"datum": 117.65}, "text": {"field": "t", "type": "nominal"}}},
            {"data": {"values": [{"t": "Model Number: E97\nITS Job Number: G103235083\nCompany: EchoStar Technologies LLC"}]}, "mark": {"type": "text", "style": "tiny", "align": "left", "baseline": "top", "lineBreak": "\n", "lineHeight": 17},
             "encoding": {"x": {"datum": 23.757}, "y": {"datum": -10.1}, "text": {"field": "t", "type": "nominal"}}},
            {"data": {"values": [{"t": "Operator: Grace Lin\n02:52:37 PM, Thursday, January 04, 2018"}]}, "mark": {"type": "text", "style": "tiny", "align": "left", "baseline": "top", "lineBreak": "\n", "lineHeight": 16},
             "encoding": {"x": {"datum": 0.56172}, "y": {"datum": -19.1}, "text": {"field": "t", "type": "nominal"}}},
            {"data": {"name": "F"}, "mark": {"type": "line", "strokeWidth": 1.2, "color": "#800080"},
             "encoding": {
               "x": {"field": "f", "type": "quantitative", "scale": {"type": "log", "domain": [1, 100], "nice": false},
                     "axis": {"grid": true, "ticks": true, "tickCount": 500, "values": [1,2,3,4,5,6,7,8,9,10,20,30,40,50,60,70,80,90,100], "labelExpr": "datum.value === 1 ? '1.0G' : datum.value === 10 ? '10.0G' : datum.value === 100 ? '100.0G' : ''", "title": "Frequency (Hz)", "titlePadding": 4}},
               "y": {"field": "v", "type": "quantitative", "scale": {"domain": [0, 100], "nice": false, "zero": false},
                     "axis": {"grid": true, "ticks": true, "tickCount": 500, "values": [0,1,2,3,4,5,6,7,8,9,10,11,12,13,14,15,16,17,18,19,20,21,22,23,24,25,26,27,28,29,30,31,32,33,34,35,36,37,38,39,40,41,42,43,44,45,46,47,48,49,50,51,52,53,54,55,56,57,58,59,60,61,62,63,64,65,66,67,68,69,70,71,72,73,74,75,76,77,78,79,80,81,82,83,84,85,86,87,88,89,90,91,92,93,94,95,96,97,98,99,100], "labelExpr": "datum.value % 10 === 0 ? (datum.value === 0 ? '0' : format(datum.value, '.1f')) : ''", "gridOpacity": {"condition": {"test": "datum.value % 10 === 0", "value": 1}, "value": 0}, "title": "Amplitude (dBuV/m)"}}
             }},
            {"data": {"name": "limPK"}, "mark": {"type": "line", "color": "#800000", "strokeWidth": 1.5},
             "encoding": {"x": {"field": "f", "type": "quantitative"}, "y": {"field": "v", "type": "quantitative"}}}
          ]
        }
      ]
    }
  ]
}
